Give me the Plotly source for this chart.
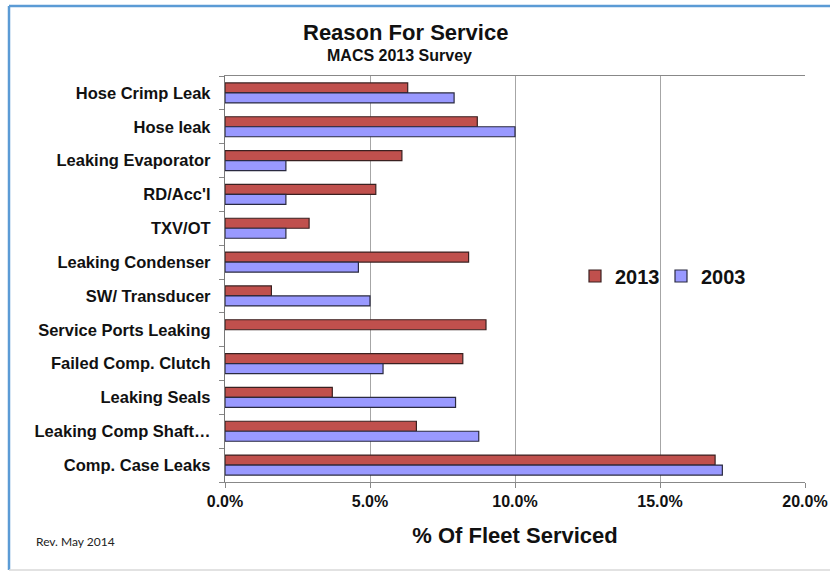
import plotly.graph_objects as go

categories = ["Hose Crimp Leak", "Hose leak", "Leaking Evaporator", "RD/Acc'l", "TXV/OT",
              "Leaking Condenser", "SW/ Transducer", "Service Ports Leaking",
              "Failed Comp. Clutch", "Leaking Seals", "Leaking Comp Shaft…", "Comp. Case Leaks"]
values_2013 = [6.3, 8.7, 6.1, 5.2, 2.9, 8.4, 1.6, 9.0, 8.2, 3.7, 6.6, 16.9]
values_2003 = [7.9, 10.0, 2.1, 2.1, 2.1, 4.6, 5.0, None, 5.45, 7.95, 8.75, 17.15]
x_ticks = [0, 5, 10, 15, 20]
x_tick_labels = ["0.0%", "5.0%", "10.0%", "15.0%", "20.0%"]

FONT = "Liberation Sans, Arial, sans-serif"
BOLD = "<b>{}</b>"

fig = go.Figure()
fig.add_trace(go.Bar(
    y=categories, x=values_2013, orientation="h", name=BOLD.format("2013"),
    marker=dict(color="#C0504D", line=dict(color="#3a2020", width=1.2)),
))
fig.add_trace(go.Bar(
    y=categories, x=values_2003, orientation="h", name=BOLD.format("2003"),
    marker=dict(color="#9999FF", line=dict(color="#2a2a40", width=1.2)),
))

# frame lines (paper coords)
def px_x(px):
    return (px - 225) / 580.0

def px_y(py):
    return (482 - py) / 406.0

shapes = [
    dict(type="line", xref="paper", yref="paper", x0=px_x(9), x1=px_x(9),
         y0=px_y(570), y1=px_y(6), line=dict(color="#5B9BD5", width=2.5)),
    dict(type="line", xref="paper", yref="paper", x0=px_x(9), x1=px_x(835),
         y0=px_y(6), y1=px_y(6), line=dict(color="#5B9BD5", width=2.5)),
    dict(type="line", xref="paper", yref="paper", x0=px_x(9), x1=px_x(835),
         y0=px_y(570), y1=px_y(570), line=dict(color="#d9d9d9", width=1.5)),
]

annotations = [
    dict(text="<b>Reason For Service</b>", xref="paper", yref="paper", xanchor="center", yanchor="middle",
         x=px_x(405), y=px_y(33), showarrow=False, font=dict(family=FONT, size=22, color="#111")),
    dict(text="<b>MACS 2013 Survey</b>", xref="paper", yref="paper", xanchor="center", yanchor="middle",
         x=px_x(399), y=px_y(55), showarrow=False, font=dict(family=FONT, size=16, color="#111")),
    dict(text="Rev. May 2014", xref="paper", yref="paper", xanchor="left", yanchor="middle",
         x=px_x(34), y=px_y(541), showarrow=False, font=dict(family="Lato, sans-serif", size=12, color="#222")),
]

fig.update_layout(
    width=830, height=571,
    margin=dict(l=225, r=25, t=76, b=89, autoexpand=False),
    paper_bgcolor="white", plot_bgcolor="white",
    barmode="group", bargap=0.41, bargroupgap=0.0,
    font=dict(family=FONT, color="#111"),
    showlegend=True,
    legend=dict(orientation="h", x=px_x(575), y=px_y(276), xanchor="left", yanchor="middle",
                font=dict(family=FONT, size=20, color="#111"), bgcolor="rgba(0,0,0,0)",
                itemwidth=30, entrywidth=41, traceorder="normal"),
    shapes=shapes,
    annotations=annotations,
    xaxis=dict(
        range=[0, 20], tickvals=x_ticks, ticktext=[BOLD.format(t) for t in x_tick_labels],
        tickfont=dict(family=FONT, size=16, color="#111"),
        showgrid=True, gridcolor="#a6a6a6", gridwidth=1.3,
        showline=True, linecolor="#888", linewidth=1.3, mirror=True,
        ticks="outside", ticklen=5, tickcolor="#888", zeroline=False, automargin=False,
        title=dict(text="<b>% Of Fleet Serviced</b>", font=dict(family=FONT, size=22, color="#111"), standoff=18),
        fixedrange=True,
    ),
    yaxis=dict(
        autorange="reversed", type="category",
        tickvals=categories, ticktext=[BOLD.format(c) for c in categories],
        tickfont=dict(family=FONT, size=16.5, color="#111"),
        tickson="boundaries", ticks="outside", ticklen=5, tickcolor="#888",
        ticklabelstandoff=10, automargin=False,
        showline=True, linecolor="#777", linewidth=1.3,
        showgrid=False, zeroline=False, fixedrange=True,
    ),
)

fig.write_html("out.html")
